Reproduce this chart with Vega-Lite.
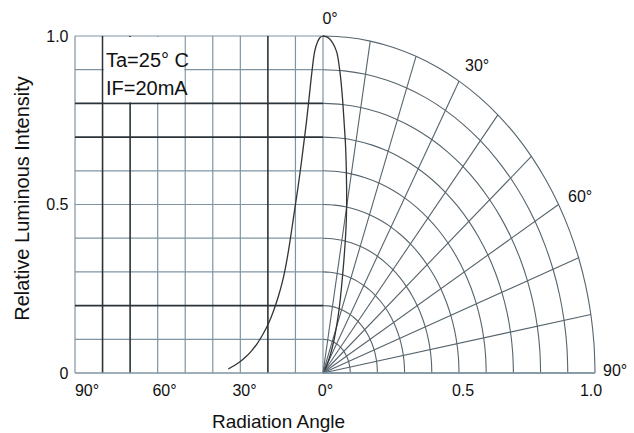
{
  "$schema": "https://vega.github.io/schema/vega-lite/v6.json",
  "width": 520,
  "height": 337,
  "autosize": "none",
  "padding": {"left": 75, "top": 36, "right": 39, "bottom": 60},
  "background": "white",
  "config": {
    "view": {"stroke": null},
    "font": "Liberation Sans",
    "axis": {"grid": false, "ticks": false, "domain": false, "labelFont": "Liberation Sans", "titleFont": "Liberation Sans", "titleFontWeight": "normal", "labelColor": "#111111", "titleColor": "#111111"}
  },
  "datasets": {
    "pattern": [
      {"angle": 0, "intensity": 1.0},
      {"angle": 1, "intensity": 0.996},
      {"angle": 2, "intensity": 0.982},
      {"angle": 3, "intensity": 0.955},
      {"angle": 4, "intensity": 0.895},
      {"angle": 5, "intensity": 0.82},
      {"angle": 6, "intensity": 0.745},
      {"angle": 7, "intensity": 0.68},
      {"angle": 8, "intensity": 0.615},
      {"angle": 9, "intensity": 0.555},
      {"angle": 10, "intensity": 0.5},
      {"angle": 11, "intensity": 0.445},
      {"angle": 12, "intensity": 0.39},
      {"angle": 13, "intensity": 0.34},
      {"angle": 14, "intensity": 0.297},
      {"angle": 15, "intensity": 0.262},
      {"angle": 16, "intensity": 0.233},
      {"angle": 17, "intensity": 0.207},
      {"angle": 18, "intensity": 0.183},
      {"angle": 19, "intensity": 0.162},
      {"angle": 20, "intensity": 0.143},
      {"angle": 22, "intensity": 0.112},
      {"angle": 24, "intensity": 0.086},
      {"angle": 26, "intensity": 0.065},
      {"angle": 28, "intensity": 0.048},
      {"angle": 30, "intensity": 0.034},
      {"angle": 32, "intensity": 0.023},
      {"angle": 34.4, "intensity": 0.012}
    ],
    "one": [{}]
  },
  "layer": [
    {
      "data": {"values": [{"angle": 90}, {"angle": 60}, {"angle": 50}, {"angle": 40}, {"angle": 30}, {"angle": 10}, {"angle": 0}]},
      "transform": [{"calculate": "-datum.angle * 0.0101307", "as": "x"}],
      "mark": {"type": "rule", "color": "#7e94a3", "strokeWidth": 1.2},
      "encoding": {
        "x": {
          "field": "x", "type": "quantitative",
          "scale": {"domain": [-0.91176, 1], "nice": false, "zero": false},
          "axis": {
            "values": [-0.8695, -0.5846, -0.2904, 0.0074, 0.5129, 0.9835],
            "labelExpr": "datum.value < -0.8 ? '90°' : datum.value < -0.5 ? '60°' : datum.value < -0.1 ? '30°' : datum.value < 0.1 ? '0°' : datum.value < 0.7 ? '0.5' : '1.0'",
            "labelFontSize": 16,
            "labelPadding": 9,
            "labelAlign": "center",
            "labelFlush": false,
            "labelOverlap": false,
            "title": "Radiation Angle",
            "titleFontSize": 19,
            "titleX": 203,
            "titleY": 54,
            "titleAlign": "center",
            "titleBaseline": "alphabetic"
          }
        },
        "y": {
          "datum": 0, "type": "quantitative",
          "scale": {"domain": [0, 1], "nice": false, "zero": false},
          "axis": {
            "values": [0, 0.5, 1],
            "labelExpr": "datum.value == 0 ? '0' : format(datum.value, '.1f')",
            "labelFontSize": 16,
            "labelPadding": 7,
            "labelFlush": false,
            "title": "Relative Luminous Intensity",
            "titleFontSize": 20,
            "titleX": -53,
            "titleY": 162,
            "titleAngle": 270,
            "titleAlign": "center",
            "titleBaseline": "middle"
          }
        },
        "y2": {"datum": 1}
      }
    },
    {
      "data": {"values": [{"i": 0.1}, {"i": 0.3}, {"i": 0.4}, {"i": 0.5}, {"i": 0.6}, {"i": 0.9}, {"i": 1.0}]},
      "mark": {"type": "rule", "color": "#7e94a3", "strokeWidth": 1.2},
      "encoding": {
        "y": {"field": "i", "type": "quantitative", "scale": {"domain": [0, 1], "nice": false, "zero": false}},
        "x": {"datum": -0.91176, "type": "quantitative", "scale": {"domain": [-0.91176, 1], "nice": false, "zero": false}},
        "x2": {"datum": 0}
      }
    },
    {
      "data": {"values": [{"r": [0.1, 0.2, 0.3, 0.4, 0.5, 0.6, 0.7, 0.8, 0.9, 1.0], "t": [0, 5, 10, 15, 20, 25, 30, 35, 40, 45, 50, 55, 60, 65, 70, 75, 80, 85, 90]}]},
      "transform": [
        {"flatten": ["r"]},
        {"flatten": ["t"]},
        {"calculate": "datum.r * sin(datum.t * PI / 180)", "as": "x"},
        {"calculate": "datum.r * cos(datum.t * PI / 180)", "as": "y"}
      ],
      "mark": {"type": "line", "color": "#56646d", "strokeWidth": 1.1, "interpolate": "catmull-rom"},
      "encoding": {
        "x": {"field": "x", "type": "quantitative", "scale": {"domain": [-0.91176, 1], "nice": false, "zero": false}},
        "y": {"field": "y", "type": "quantitative", "scale": {"domain": [0, 1], "nice": false, "zero": false}},
        "detail": {"field": "r"},
        "order": {"field": "t"}
      }
    },
    {
      "data": {"values": [{"t": [10, 20, 30, 40, 50, 60, 70, 80, 90], "r": [0, 1]}]},
      "transform": [
        {"flatten": ["t"]},
        {"flatten": ["r"]},
        {"calculate": "datum.r * sin(datum.t * PI / 180)", "as": "x"},
        {"calculate": "datum.r * cos(datum.t * PI / 180)", "as": "y"}
      ],
      "mark": {"type": "line", "color": "#56646d", "strokeWidth": 1.1},
      "encoding": {
        "x": {"field": "x", "type": "quantitative", "scale": {"domain": [-0.91176, 1], "nice": false, "zero": false}},
        "y": {"field": "y", "type": "quantitative", "scale": {"domain": [0, 1], "nice": false, "zero": false}},
        "detail": {"field": "t"},
        "order": {"field": "r"}
      }
    },
    {
      "data": {"values": [{"angle": 80}, {"angle": 70}, {"angle": 20}]},
      "transform": [{"calculate": "-datum.angle * 0.0101307", "as": "x"}],
      "mark": {"type": "rule", "color": "#2b3338", "strokeWidth": 1.6},
      "encoding": {
        "x": {"field": "x", "type": "quantitative", "scale": {"domain": [-0.91176, 1], "nice": false, "zero": false}},
        "y": {"datum": 0, "type": "quantitative", "scale": {"domain": [0, 1], "nice": false, "zero": false}},
        "y2": {"datum": 1}
      }
    },
    {
      "data": {"values": [{"i": 0.8}, {"i": 0.7}, {"i": 0.2}]},
      "mark": {"type": "rule", "color": "#2b3338", "strokeWidth": 1.6},
      "encoding": {
        "y": {"field": "i", "type": "quantitative", "scale": {"domain": [0, 1], "nice": false, "zero": false}},
        "x": {"datum": -0.91176, "type": "quantitative", "scale": {"domain": [-0.91176, 1], "nice": false, "zero": false}},
        "x2": {"datum": 0}
      }
    },
    {
      "data": {"name": "one"},
      "mark": {"type": "rule", "color": "#7e94a3", "strokeWidth": 1.3},
      "encoding": {
        "y": {"datum": 0, "type": "quantitative", "scale": {"domain": [0, 1], "nice": false, "zero": false}},
        "x": {"datum": -0.91176, "type": "quantitative", "scale": {"domain": [-0.91176, 1], "nice": false, "zero": false}},
        "x2": {"datum": 1}
      }
    },
    {
      "data": {"name": "one"},
      "mark": {"type": "rect", "fill": "white", "xOffset": 1.2, "x2Offset": -1, "yOffset": 1, "y2Offset": -1.2},
      "encoding": {
        "x": {"datum": -0.81046, "type": "quantitative", "scale": {"domain": [-0.91176, 1], "nice": false, "zero": false}},
        "x2": {"datum": -0.50654},
        "y": {"datum": 1, "type": "quantitative", "scale": {"domain": [0, 1], "nice": false, "zero": false}},
        "y2": {"datum": 0.8}
      }
    },
    {
      "data": {"name": "pattern"},
      "transform": [{"calculate": "-datum.angle * 0.0101307", "as": "x"}],
      "mark": {"type": "line", "color": "#333333", "strokeWidth": 1.3, "interpolate": "catmull-rom"},
      "encoding": {
        "x": {"field": "x", "type": "quantitative", "scale": {"domain": [-0.91176, 1], "nice": false, "zero": false}},
        "y": {"field": "intensity", "type": "quantitative", "scale": {"domain": [0, 1], "nice": false, "zero": false}},
        "order": {"field": "angle"}
      }
    },
    {
      "data": {"name": "pattern"},
      "transform": [
        {"calculate": "datum.intensity * sin(datum.angle * PI / 180)", "as": "x"},
        {"calculate": "datum.intensity * cos(datum.angle * PI / 180)", "as": "y"}
      ],
      "mark": {"type": "line", "color": "#333333", "strokeWidth": 1.3, "interpolate": "catmull-rom"},
      "encoding": {
        "x": {"field": "x", "type": "quantitative", "scale": {"domain": [-0.91176, 1], "nice": false, "zero": false}},
        "y": {"field": "y", "type": "quantitative", "scale": {"domain": [0, 1], "nice": false, "zero": false}},
        "order": {"field": "angle"}
      }
    },
    {
      "data": {"name": "one"},
      "mark": {"type": "text", "align": "left", "baseline": "alphabetic", "fontSize": 20, "lineHeight": 28.4, "color": "#111111"},
      "encoding": {
        "x": {"datum": -0.7978, "type": "quantitative", "scale": {"domain": [-0.91176, 1], "nice": false, "zero": false}},
        "y": {"datum": 0.9089, "type": "quantitative", "scale": {"domain": [0, 1], "nice": false, "zero": false}},
        "text": {"value": ["Ta=25° C", "IF=20mA"]}
      }
    },
    {
      "data": {"name": "one"},
      "mark": {"type": "text", "align": "left", "baseline": "middle", "fontSize": 16, "color": "#111111"},
      "encoding": {
        "x": {"datum": -0.002, "type": "quantitative", "scale": {"domain": [-0.91176, 1], "nice": false, "zero": false}},
        "y": {"datum": 1.049, "type": "quantitative", "scale": {"domain": [0, 1], "nice": false, "zero": false}},
        "text": {"value": "0°"}
      }
    },
    {
      "data": {"name": "one"},
      "mark": {"type": "text", "align": "left", "baseline": "middle", "fontSize": 16, "color": "#111111"},
      "encoding": {
        "x": {"datum": 0.522, "type": "quantitative", "scale": {"domain": [-0.91176, 1], "nice": false, "zero": false}},
        "y": {"datum": 0.9095, "type": "quantitative", "scale": {"domain": [0, 1], "nice": false, "zero": false}},
        "text": {"value": "30°"}
      }
    },
    {
      "data": {"name": "one"},
      "mark": {"type": "text", "align": "left", "baseline": "middle", "fontSize": 16, "color": "#111111"},
      "encoding": {
        "x": {"datum": 0.9007, "type": "quantitative", "scale": {"domain": [-0.91176, 1], "nice": false, "zero": false}},
        "y": {"datum": 0.5223, "type": "quantitative", "scale": {"domain": [0, 1], "nice": false, "zero": false}},
        "text": {"value": "60°"}
      }
    },
    {
      "data": {"name": "one"},
      "mark": {"type": "text", "align": "left", "baseline": "middle", "fontSize": 16, "color": "#111111"},
      "encoding": {
        "x": {"datum": 1.0294, "type": "quantitative", "scale": {"domain": [-0.91176, 1], "nice": false, "zero": false}},
        "y": {"datum": 0.0074, "type": "quantitative", "scale": {"domain": [0, 1], "nice": false, "zero": false}},
        "text": {"value": "90°"}
      }
    }
  ]
}
